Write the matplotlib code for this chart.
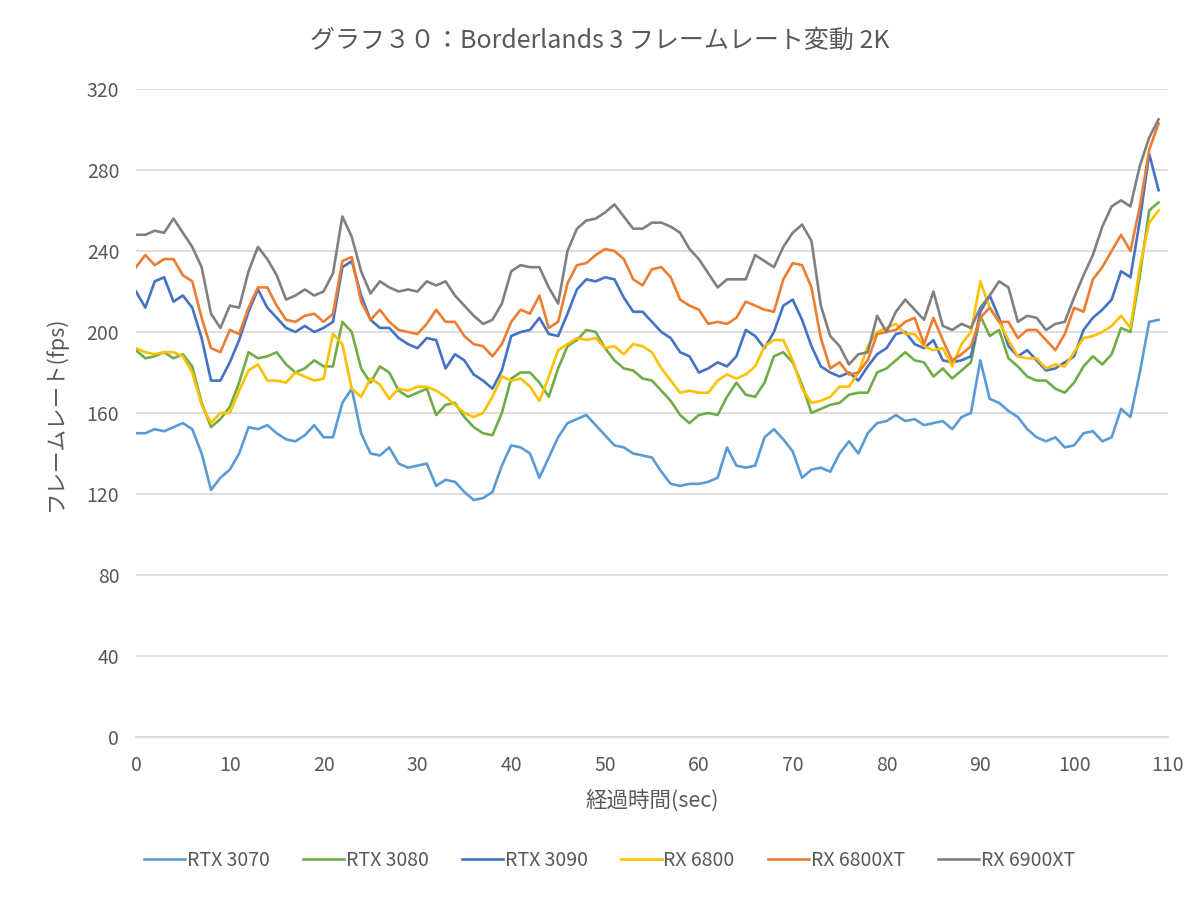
import numpy as np
import matplotlib
matplotlib.use("Agg")
import matplotlib.pyplot as plt

plt.rcParams["font.family"] = ["Noto Sans CJK JP", "DejaVu Sans"]

# elapsed time in seconds
seconds = list(range(110))

rtx3070 = [150, 150, 152, 151, 153, 155, 152, 140, 122, 128,
           132, 140, 153, 152, 154, 150, 147, 146, 149, 154,
           148, 148, 165, 172, 150, 140, 139, 143, 135, 133,
           134, 135, 124, 127, 126, 121, 117, 118, 121, 134,
           144, 143, 140, 128, 138, 148, 155, 157, 159, 154,
           149, 144, 143, 140, 139, 138, 131, 125, 124, 125,
           125, 126, 128, 143, 134, 133, 134, 148, 152, 147,
           141, 128, 132, 133, 131, 140, 146, 140, 150, 155,
           156, 159, 156, 157, 154, 155, 156, 152, 158, 160,
           186, 167, 165, 161, 158, 152, 148, 146, 148, 143,
           144, 150, 151, 146, 148, 162, 158, 180, 205, 206]

rtx3080 = [191, 187, 188, 190, 187, 189, 183, 165, 153, 157,
           163, 175, 190, 187, 188, 190, 184, 180, 182, 186,
           183, 183, 205, 200, 182, 175, 183, 180, 171, 168,
           170, 172, 159, 164, 165, 158, 153, 150, 149, 160,
           177, 180, 180, 175, 168, 182, 193, 196, 201, 200,
           192, 186, 182, 181, 177, 176, 171, 166, 159, 155,
           159, 160, 159, 168, 175, 169, 168, 175, 188, 190,
           185, 174, 160, 162, 164, 165, 169, 170, 170, 180,
           182, 186, 190, 186, 185, 178, 182, 177, 181, 185,
           208, 198, 201, 187, 183, 178, 176, 176, 172, 170,
           175, 183, 188, 184, 189, 202, 200, 228, 260, 264]

rtx3090 = [220, 212, 225, 227, 215, 218, 212, 197, 176, 176,
           185, 196, 210, 221, 212, 207, 202, 200, 203, 200,
           202, 205, 232, 235, 218, 206, 202, 202, 197, 194,
           192, 197, 196, 182, 189, 186, 179, 176, 172, 181,
           198, 200, 201, 207, 199, 198, 209, 221, 226, 225,
           227, 226, 217, 210, 210, 205, 200, 197, 190, 188,
           180, 182, 185, 183, 188, 201, 198, 192, 200, 213,
           216, 206, 193, 183, 180, 178, 180, 176, 183, 189,
           192, 199, 200, 194, 192, 196, 186, 185, 186, 188,
           210, 218, 207, 193, 188, 191, 186, 181, 182, 185,
           188, 201, 207, 211, 216, 230, 227, 255, 288, 270]

rx6800 = [192, 190, 189, 190, 190, 188, 180, 164, 155, 160,
          160, 171, 181, 184, 176, 176, 175, 180, 178, 176,
          177, 199, 194, 172, 168, 177, 174, 167, 172, 171,
          173, 173, 171, 168, 164, 160, 158, 160, 168, 178,
          176, 177, 173, 166, 178, 191, 194, 197, 196, 197,
          192, 193, 189, 194, 193, 190, 182, 176, 170, 171,
          170, 170, 176, 179, 177, 179, 183, 193, 196, 196,
          186, 172, 165, 166, 168, 173, 173, 180, 193, 200,
          202, 204, 199, 199, 193, 191, 192, 183, 194, 200,
          225, 212, 205, 196, 188, 187, 187, 182, 184, 183,
          190, 197, 198, 200, 203, 208, 202, 232, 254, 260]

rx6800xt = [232, 238, 233, 236, 236, 228, 225, 207, 192, 190,
            201, 199, 212, 222, 222, 213, 206, 205, 208, 209,
            205, 209, 235, 237, 215, 206, 211, 205, 201, 200,
            199, 204, 211, 205, 205, 198, 194, 193, 188, 194,
            205, 211, 209, 218, 202, 205, 224, 233, 234, 238,
            241, 240, 236, 226, 223, 231, 232, 227, 216, 213,
            211, 204, 205, 204, 207, 215, 213, 211, 210, 226,
            234, 233, 222, 197, 182, 185, 179, 180, 186, 199,
            200, 201, 205, 207, 194, 207, 196, 186, 189, 193,
            207, 212, 205, 205, 197, 201, 201, 196, 191, 199,
            212, 210, 226, 232, 240, 248, 240, 262, 290, 303]

rx6900xt = [248, 248, 250, 249, 256, 249, 242, 232, 209, 202,
            213, 212, 230, 242, 236, 228, 216, 218, 221, 218,
            220, 229, 257, 247, 230, 219, 225, 222, 220, 221,
            220, 225, 223, 225, 218, 213, 208, 204, 206, 214,
            230, 233, 232, 232, 222, 214, 240, 251, 255, 256,
            259, 263, 257, 251, 251, 254, 254, 252, 249, 241,
            236, 229, 222, 226, 226, 226, 238, 235, 232, 242,
            249, 253, 245, 213, 198, 193, 184, 189, 190, 208,
            200, 210, 216, 211, 206, 220, 203, 201, 204, 202,
            212, 218, 225, 222, 205, 208, 207, 201, 204, 205,
            217, 228, 238, 252, 262, 265, 262, 282, 296, 305]

series = [
    ("RTX 3070", rtx3070, "#5B9BD5"),
    ("RTX 3080", rtx3080, "#70AD47"),
    ("RTX 3090", rtx3090, "#4472C4"),
    ("RX 6800", rx6800, "#FFC000"),
    ("RX 6800XT", rx6800xt, "#ED7D31"),
    ("RX 6900XT", rx6900xt, "#808080"),
]

text_color = "#595959"
grid_color = "#D9D9D9"

fig = plt.figure(figsize=(12, 8.97), dpi=100)
ax = fig.add_axes([0.1133, 0.1784, 0.86, 0.7224])

for name, values, color in series:
    ax.plot(seconds, values, color=color, linewidth=1.9, label=name,
            solid_joinstyle="round")

ax.set_xlim(0, 110)
ax.set_ylim(0, 320)
ax.set_xticks(np.arange(0, 111, 10))
ax.set_yticks(np.arange(0, 321, 40))
ax.grid(axis="y", color=grid_color, linewidth=1.2)
ax.set_axisbelow(True)
for side in ["top", "right", "left"]:
    ax.spines[side].set_visible(False)
ax.spines["bottom"].set_color(grid_color)
ax.spines["bottom"].set_linewidth(1.2)
ax.tick_params(axis="both", length=0, labelsize=14, labelcolor=text_color)
ax.tick_params(axis="x", pad=13)
ax.tick_params(axis="y", pad=12)

ax.set_xlabel("経過時間(sec)", fontsize=15.5, color=text_color, labelpad=10)
ax.set_ylabel("フレームレート(fps)", fontsize=15.5, color=text_color, labelpad=14)
fig.text(0.5, 0.955, "グラフ３０：Borderlands 3 フレームレート変動 2K", fontsize=18,
         color=text_color, ha="center", va="center")

fig.legend(loc="center", bbox_to_anchor=(0.508, 0.041), ncol=6, frameon=False,
           fontsize=14, labelcolor=text_color, handlelength=2.1,
           handletextpad=0.1, columnspacing=1.7)

fig.savefig("out.png", dpi=100)
